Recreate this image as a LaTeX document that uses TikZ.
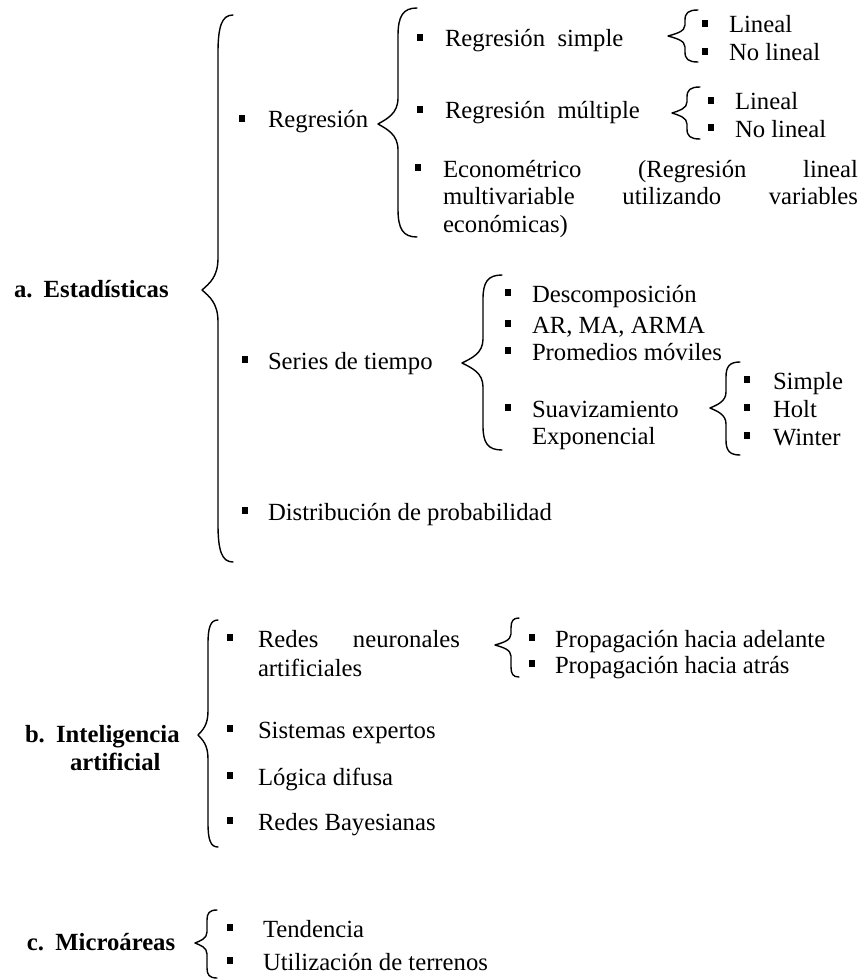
\documentclass[tikz,border=0pt]{standalone}
\usepackage{fontspec}
\setmainfont{Liberation Serif}
\tikzset{
  txt/.style={anchor=base west, inner sep=0pt, outer sep=0pt},
  bul/.style={rectangle, fill=black, minimum width=6.5pt, minimum height=6.5pt, inner sep=0pt, outer sep=0pt},
  brc/.style={line width=1.4pt, line cap=round, line join=round},
  hd/.style={txt, font=\fontsize{24.7}{28}\selectfont\bfseries}
}
% \mybrace{tip x}{line x}{end x}{top y}{mid y}{bottom y}{hook r}{tip r}
\newcommand\mybrace[8]{%
  \draw[brc] (#3,#4) .. controls ({#2+0.25*(#3-#2)},#4) and (#2,{#4+0.3*#7}) .. (#2,{#4+#7})
    -- (#2,{#5-#8})
    .. controls (#2,{#5-0.4*#8}) and ({#1+0.45*(#2-#1)},{#5-0.2*#8}) .. (#1,#5)
    .. controls ({#1+0.45*(#2-#1)},{#5+0.2*#8}) and (#2,{#5+0.4*#8}) .. (#2,{#5+#8})
    -- (#2,{#6-#7})
    .. controls (#2,{#6-0.3*#7}) and ({#2+0.25*(#3-#2)},#6) .. (#3,#6);}
% \bitem{name}{bullet x}{text x}{baseline y}{text}
\newcommand\bitem[5]{%
  \node[bul] (#1b) at (#2,{#4-9.5}) {};
  \node[txt] (#1) at (#3,#4) {#5};}
\begin{document}
\begin{tikzpicture}[x=1pt,y=-1pt,font=\fontsize{24.7}{28}\selectfont]
\useasboundingbox (0,0) rectangle (862,979);

% ---------- a. Estadisticas ----------
\node[hd] (a) at (14,297) {a.\hspace{3pt} Estadísticas};
\mybrace{202}{218}{233}{15}{290}{562}{38}{32}

\bitem{reg}{242}{268}{128}{Regresión}
\mybrace{378}{398}{417}{8}{124}{237}{28}{26}

\bitem{rs}{420}{445}{47}{Regresión\ \ simple}
\mybrace{668}{685}{698}{10}{36}{62}{10}{11}
\bitem{rsl}{705}{729}{33}{Lineal}
\bitem{rsn}{705}{729}{61}{No lineal}

\bitem{rm}{420}{445}{119}{Regresión\ \ múltiple}
\mybrace{672}{687}{700}{87}{113}{139}{10}{11}
\bitem{rml}{711}{735}{110}{Lineal}
\bitem{rmn}{711}{735}{137}{No lineal}

\bitem{eco}{418}{443}{177}{\makebox[415pt][s]{Econométrico (Regresión lineal}}
\node[txt] (eco2) at (443,204) {\makebox[415pt][s]{multivariable utilizando variables}};
\node[txt] (eco3) at (443,232) {económicas)};

\bitem{ser}{245}{268}{369}{Series de tiempo}
\mybrace{462}{483}{502}{275}{363}{450}{24}{24}
\bitem{des}{508}{532}{302}{Descomposición}
\bitem{ar}{508}{532}{333}{AR, MA, ARMA}
\bitem{pro}{508}{532}{360}{Promedios móviles}
\bitem{sua}{508}{532}{417}{Suavizamiento}
\node[txt] (exp) at (532,444) {Exponencial};
\mybrace{710}{726}{740}{362}{408}{455}{15}{16}
\bitem{sim}{747}{773}{389}{Simple}
\bitem{hol}{747}{773}{417}{Holt}
\bitem{win}{747}{773}{445}{Winter}

\bitem{dis}{245}{268}{520}{Distribución de probabilidad}

% ---------- b. Inteligencia artificial ----------
\node[hd] (b) at (25,742) {b.\hspace{3pt} Inteligencia};
\node[hd] (b2) at (70,770) {artificial};
\mybrace{198}{208}{218}{620}{735}{847}{24}{24}

\bitem{rna}{230}{258}{647}{\makebox[202pt][s]{Redes neuronales}}
\node[txt] (rna2) at (258,676) {artificiales};
\mybrace{495}{511}{519}{618}{645}{677}{10}{11}
\bitem{pad}{532}{555}{647}{Propagación hacia adelante}
\bitem{pat}{532}{555}{673}{Propagación hacia atrás}

\bitem{sis}{230}{258}{738}{Sistemas expertos}
\bitem{log}{230}{258}{785}{Lógica difusa}
\bitem{bay}{230}{258}{830}{Redes Bayesianas}

% ---------- c. Microareas ----------
\node[hd] (c) at (27,950) {c.\hspace{3pt} Microáreas};
\mybrace{195}{207}{217}{910}{943}{978}{10}{11}
\bitem{ten}{230}{263}{937}{Tendencia}
\bitem{uti}{230}{263}{970}{Utilización de terrenos}
\end{tikzpicture}
\end{document}
